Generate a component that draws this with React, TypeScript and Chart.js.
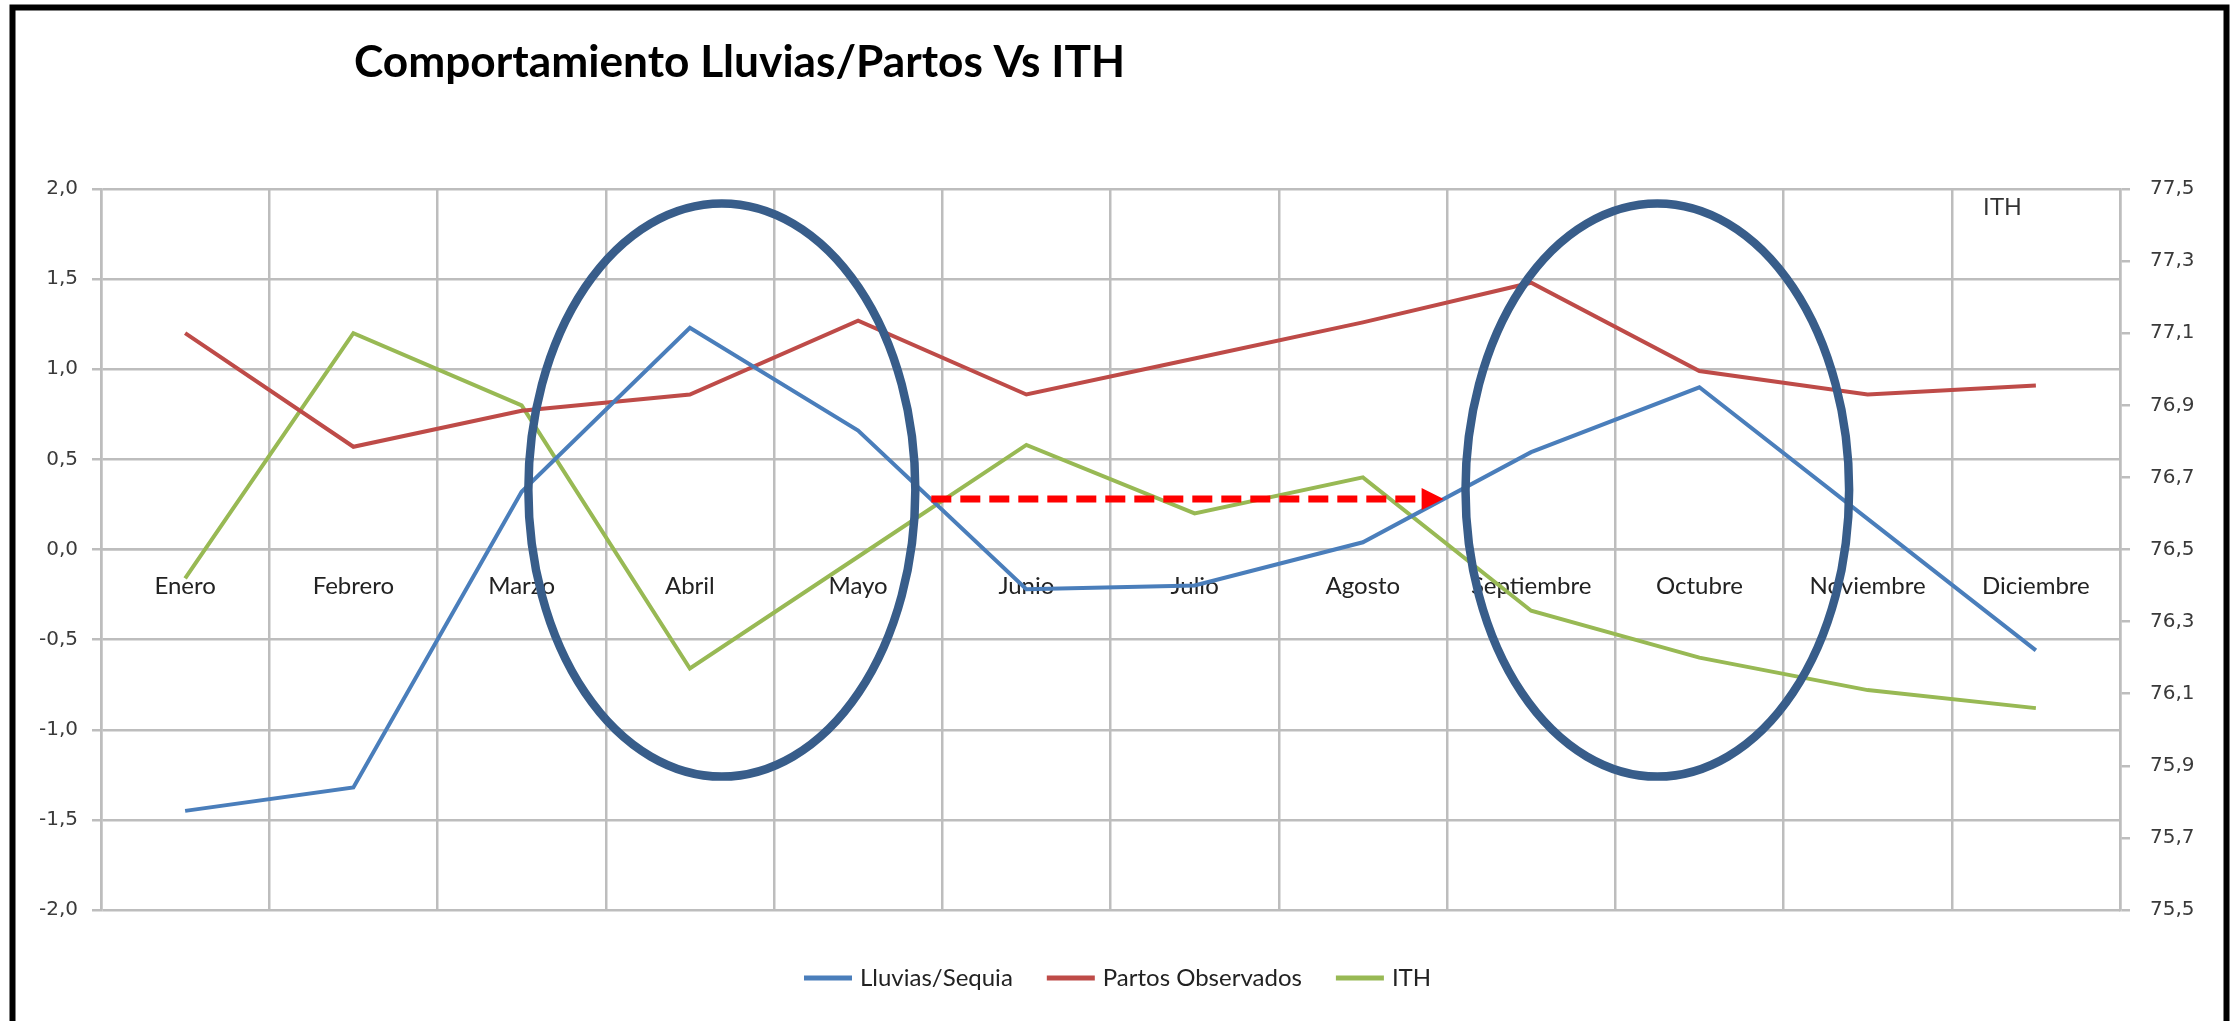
import React, { useEffect, useRef } from 'react';
import { Chart, registerables } from 'chart.js';

Chart.register(...registerables);

// ---- Data ----
const months = ['Enero', 'Febrero', 'Marzo', 'Abril', 'Mayo', 'Junio', 'Julio', 'Agosto', 'Septiembre', 'Octubre', 'Noviembre', 'Diciembre'];
const lluviasSequia = [-1.45, -1.32, 0.32, 1.23, 0.66, -0.22, -0.2, 0.04, 0.54, 0.9, 0.17, -0.56];
const partosObservados = [1.2, 0.57, 0.77, 0.86, 1.27, 0.86, 1.06, 1.26, 1.48, 0.99, 0.86, 0.91];
const ithValues = [76.42, 77.1, 76.9, 76.17, 76.48, 76.79, 76.6, 76.7, 76.33, 76.2, 76.11, 76.06];

const leftAxisMin = -2;
const leftAxisMax = 2;
const leftAxisStep = 0.5;
const rightAxisMin = 75.5;
const rightAxisMax = 77.5;
const rightAxisStep = 0.2;

const titleText = 'Comportamiento Lluvias/Partos Vs ITH';
const rightAxisLabel = 'ITH';

// annotation shapes, in data units (category index / left-axis value)
const ellipseCentersX = [3.19, 8.75];
const ellipseCenterY = [0.33, 0.33];
const ellipseRadiusX = [1.15, 1.14];
const ellipseRadiusY = [1.59, 1.59];
const arrowFromX = 4.435;
const arrowToX = 7.48;
const arrowY = 0.28;

const BLUE = '#4A7EBB';
const RED = '#BE4B48';
const GREEN = '#98B954';
const GRID = '#BDBDBD';
const ELLIPSE = '#385D8A';

const fmt = (v: number) => Number(v).toFixed(1).replace('.', ',');

const decorPlugin = {
  id: 'decor',
  afterDraw(chart: any) {
    const { ctx, scales } = chart;
    const xs = scales.x;
    const ys = scales.y;
    ctx.save();

    // ellipses
    ctx.strokeStyle = ELLIPSE;
    ctx.lineWidth = 8.5;
    for (let i = 0; i < ellipseCentersX.length; i++) {
      const cx = xs.getPixelForValue(ellipseCentersX[i]);
      const cy = ys.getPixelForValue(ellipseCenterY[i]);
      const rx = Math.abs(xs.getPixelForValue(ellipseCentersX[i] + ellipseRadiusX[i]) - cx);
      const ry = Math.abs(ys.getPixelForValue(ellipseCenterY[i] + ellipseRadiusY[i]) - cy);
      ctx.beginPath();
      ctx.ellipse(cx, cy, rx, ry, 0, 0, Math.PI * 2);
      ctx.stroke();
    }

    // dashed arrow
    const ax1 = xs.getPixelForValue(arrowFromX);
    const ax2 = xs.getPixelForValue(arrowToX);
    const ay = ys.getPixelForValue(arrowY);
    const head = 22;
    ctx.strokeStyle = '#FF0000';
    ctx.fillStyle = '#FF0000';
    ctx.lineWidth = 7;
    ctx.setLineDash([20, 9]);
    ctx.beginPath();
    ctx.moveTo(ax1, ay);
    ctx.lineTo(ax2 - head, ay);
    ctx.stroke();
    ctx.setLineDash([]);
    ctx.beginPath();
    ctx.moveTo(ax2, ay);
    ctx.lineTo(ax2 - head, ay - 11);
    ctx.lineTo(ax2 - head, ay + 11);
    ctx.closePath();
    ctx.fill();

    // "ITH" label near right axis
    ctx.fillStyle = '#333';
    ctx.font = '24px "Liberation Sans", Arial, sans-serif';
    ctx.textAlign = 'left';
    ctx.textBaseline = 'middle';
    ctx.fillText(rightAxisLabel, chart.chartArea.right - 137, chart.chartArea.top + 19);

    // title
    ctx.fillStyle = '#000';
    ctx.font = 'bold 40px Lato, sans-serif';
    const tw = ctx.measureText(titleText).width;
    const targetW = 771;
    ctx.save();
    ctx.translate(354, 63);
    ctx.scale(targetW / tw, 1.1);
    ctx.textAlign = 'left';
    ctx.textBaseline = 'middle';
    ctx.fillText(titleText, 0, 0);
    ctx.restore();

    // legend
    ctx.font = '24px Lato, sans-serif';
    ctx.textBaseline = 'middle';
    let lx = 804;
    const ly = 978;
    chart.data.datasets.forEach((ds: any) => {
      ctx.strokeStyle = ds.borderColor;
      ctx.lineWidth = 5;
      ctx.beginPath();
      ctx.moveTo(lx, ly);
      ctx.lineTo(lx + 48, ly);
      ctx.stroke();
      lx += 56;
      ctx.fillStyle = '#222';
      ctx.fillText(ds.label, lx, ly);
      lx += ctx.measureText(ds.label).width + 34;
    });

    // outer frame
    ctx.strokeStyle = '#000';
    ctx.lineWidth = 6;
    ctx.beginPath();
    ctx.moveTo(12.5, 1040);
    ctx.lineTo(12.5, 7.5);
    ctx.lineTo(2226.5, 7.5);
    ctx.lineTo(2226.5, 1040);
    ctx.stroke();

    ctx.restore();
  },
};

export default function App() {
  const ref = useRef<HTMLCanvasElement | null>(null);

  useEffect(() => {
    if (!ref.current) return;
    const chart = new Chart(ref.current, {
      type: 'line',
      data: {
        labels: months,
        datasets: [
          { label: 'Lluvias/Sequia', data: lluviasSequia, borderColor: BLUE, backgroundColor: BLUE, yAxisID: 'y' },
          { label: 'Partos Observados', data: partosObservados, borderColor: RED, backgroundColor: RED, yAxisID: 'y' },
          { label: 'ITH', data: ithValues, borderColor: GREEN, backgroundColor: GREEN, yAxisID: 'y1' },
        ],
      },
      options: {
        responsive: false,
        animation: false,
        devicePixelRatio: 1,
        layout: { padding: { top: 189, bottom: 111, left: 0, right: 0 } },
        elements: {
          line: { borderWidth: 4, tension: 0, fill: false },
          point: { radius: 0, hoverRadius: 0 },
        },
        plugins: {
          legend: { display: false },
          title: { display: false },
          tooltip: { enabled: false },
        },
        scales: {
          x: {
            type: 'category',
            position: { y: 0 } as any,
            offset: true,
            grid: { offset: true, color: GRID, lineWidth: 2.5, drawTicks: false },
            border: { display: true, color: GRID, width: 2.5 },
            ticks: {
              autoSkip: false,
              maxRotation: 0,
              minRotation: 0,
              padding: 22,
              color: '#222',
              font: { family: 'Lato, sans-serif', size: 24 },
            },
          },
          y: {
            type: 'linear',
            position: 'left',
            min: leftAxisMin,
            max: leftAxisMax,
            ticks: {
              stepSize: leftAxisStep,
              callback: (v: any) => fmt(v),
              padding: 14,
              color: '#3a3a3a',
              font: { family: '"DejaVu Sans", Verdana, sans-serif', size: 20 },
            },
            grid: { color: GRID, lineWidth: 2.5, tickLength: 9 },
            border: { color: GRID, width: 2.5 },
            afterFit: (s: any) => { s.width = 101; },
          },
          y1: {
            type: 'linear',
            position: 'right',
            min: rightAxisMin,
            max: rightAxisMax,
            ticks: {
              stepSize: rightAxisStep,
              callback: (v: any) => fmt(v),
              padding: 20,
              color: '#3a3a3a',
              font: { family: '"DejaVu Sans", Verdana, sans-serif', size: 20 },
            },
            grid: { drawOnChartArea: false, color: GRID, lineWidth: 2.5, tickLength: 10 },
            border: { color: GRID, width: 2.5 },
            afterFit: (s: any) => { s.width = 119; },
          },
        },
      },
      plugins: [decorPlugin],
    });
    return () => chart.destroy();
  }, []);

  return (
    <div style={{ position: 'fixed', left: 0, top: 0, width: 2239, height: 1021, background: '#fff' }}>
      <canvas ref={ref} width={2239} height={1021} style={{ width: 2239, height: 1021, display: 'block' }} />
    </div>
  );
}
